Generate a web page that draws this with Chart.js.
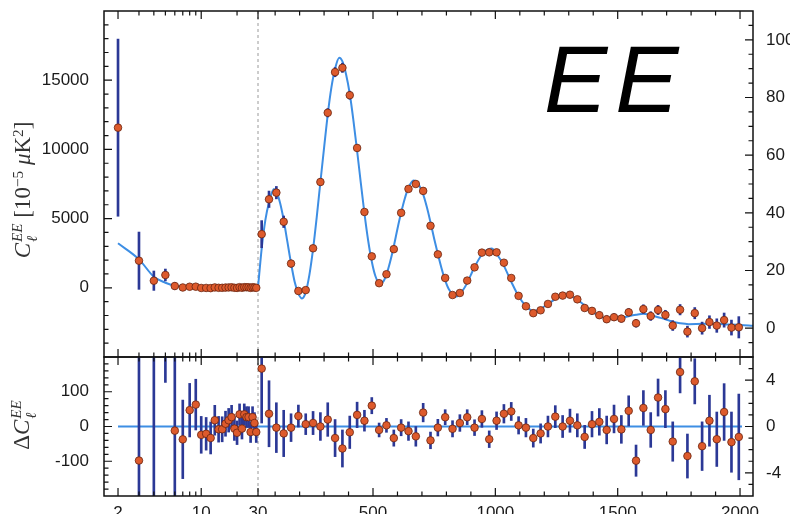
<!DOCTYPE html>
<html>
<head>
<meta charset="utf-8">
<script src="https://cdn.jsdelivr.net/npm/chart.js@4.4.1/dist/chart.umd.min.js"></script>
<style>
  html, body { margin: 0; padding: 0; background: #fff; }
  #wrap { position: relative; width: 790px; height: 514px; overflow: hidden; }
  canvas { position: absolute; left: 0; }
  #topCanvas { top: 0; }
  #botCanvas { top: 352px; }
  .ylab {
    position: absolute; transform: translate(-50%, -50%) rotate(-90deg);
    white-space: nowrap; font-family: "Liberation Serif", "DejaVu Serif", serif;
    font-size: 23px; color: #333;
  }
  .ylab sup { font-size: 0.66em; vertical-align: 0.5em; line-height: 0; }
  .ss { display: inline-block; font-size: 0.66em; line-height: 0.95; vertical-align: -0.45em; margin-left: 1px; }
  .ss i { display: block; }
  #ee {
    position: absolute; left: 544px; top: 32px; font-family: "Liberation Sans", Arial, sans-serif;
    font-style: italic; font-size: 95px; line-height: 1; letter-spacing: 8px; color: #000;
  }
</style>
</head>
<body>
<div id="wrap">
  <canvas id="topCanvas" width="790" height="362"></canvas>
  <canvas id="botCanvas" width="790" height="162"></canvas>
  <div class="ylab" style="left:25px; top:190px;"><i>C</i><span class="ss"><i>EE</i><i>ℓ</i></span> [10<sup>−5</sup> <i>μ</i>K<sup>2</sup>]</div>
  <div class="ylab" style="left:24px; top:425px;">Δ<i>C</i><span class="ss"><i>EE</i><i>ℓ</i></span></div>
  <div id="ee">EE</div>
</div>
<script>
// low multipoles, C_l in 10^-5 muK^2 (left axes)
const lowL = [2, 3, 4, 5, 6, 7, 8, 9, 10, 11, 12, 13, 14, 15, 16, 17, 18, 19, 20, 21, 22, 23, 24, 25, 26, 27, 28, 29];
const lowC = [11570, 1958, 513, 925, 128, 23, 77, 81, -12, -10, -24, 27, 0, 0, 16, 26, 35, 3, -9, 44, 4, 45, 37, 38, -5, 39, 22, -3];
const lowErr = [6400, 2070, 700, 430, 250, 113, 77, 73, 53, 47, 46, 43, 37, 36, 36, 34, 34, 34, 34, 30, 30, 30, 30, 30, 30, 30, 30, 30];
const lowResid = [8355, -98, -287, 557, -12, -37, 47, 63, -24, -21, -33, 18, -8, -8, 8, 18, 27, -6, -18, 35, -6, 35, 27, 27, -16, 27, 10, -16];
const lowTheoryL = [2, 3, 4, 5, 6, 7, 8, 9, 10, 12, 15, 20, 25, 30];
const lowTheoryC = [3215, 2056, 800, 368, 140, 60, 30, 18, 12, 9, 8, 9, 11, 14];

// binned high multipoles (right axes)
const highL = [45, 75, 105, 135, 165, 195, 225, 255, 285, 315, 345, 375, 405, 435, 465, 495, 525, 555, 585, 615,
  645, 675, 705, 735, 765, 795, 825, 855, 885, 915, 945, 975, 1005, 1035, 1065, 1095, 1125, 1155, 1185, 1215,
  1245, 1275, 1305, 1335, 1365, 1395, 1425, 1455, 1485, 1515, 1545, 1575, 1605, 1635, 1665, 1695, 1725, 1755, 1785, 1815,
  1845, 1875, 1905, 1935, 1965, 1995];
const highD = [32.6, 44.7, 47.0, 36.9, 22.4, 12.9, 13.2, 27.7, 50.7, 74.7,
  88.8, 90.3, 80.8, 62.5, 40.3, 24.9, 15.6, 18.7, 27.4, 40.0,
  48.3, 50.0, 47.6, 35.5, 25.6, 17.4, 11.5, 12.2, 16.5, 21.1,
  26.2, 26.3, 26.3, 22.7, 17.4, 11.2, 7.6, 5.2, 6.2, 8.4,
  10.9, 11.3, 11.6, 10.0, 7.0, 6.0, 4.5, 3.1, 3.8, 3.3,
  5.5, 1.7, 6.6, 4.2, 6.3, 4.6, 0.9, 6.4, -1.2, 5.2,
  0.0, 2.1, 0.9, 2.8, 0.2, 0.3];
const highErr = [4.7, 2.85, 2.15, 2.0, 1.2, 0.95, 0.9, 1.0, 1.2, 1.45,
  1.6, 1.6, 1.4, 1.1, 0.9, 0.7, 0.6, 0.6, 0.7, 0.7,
  0.8, 0.85, 0.8, 0.72, 0.72, 0.65, 0.7, 0.72, 0.65, 0.68,
  0.72, 0.72, 0.76, 0.8, 0.78, 0.75, 0.8, 0.78, 0.83, 0.9,
  0.95, 0.95, 1.0, 1.0, 1.0, 1.1, 1.15, 1.2, 1.2, 1.2,
  1.3, 1.35, 1.5, 1.5, 1.6, 1.6, 1.7, 1.8, 1.9, 1.95,
  2.1, 2.2, 2.35, 2.45, 2.6, 3.7];
const highResid = [5.0, 1.1, -0.1, -0.6, -0.1, 0.9, 0.2, 0.3, 0.0, 0.6,
  -1.0, -1.9, -0.5, 1.0, 0.5, 1.8, -0.3, 0.1, -1.0, -0.1,
  -0.4, -0.85, 1.2, -1.2, -0.1, 0.8, -0.2, 0.3, 0.8, -0.1,
  0.65, -1.1, 0.5, 1.1, 1.3, 0.1, -0.1, -1.0, -0.6, 0.0,
  0.85, 0.0, 0.5, 0.1, -0.9, 0.2, 0.4, -0.3, 0.65, -0.25,
  1.35, -2.95, 1.6, -0.3, 2.5, 1.5, -1.3, 4.7, -2.55, 3.9,
  -1.7, 0.5, -1.1, 1.25, -1.35, -0.9];
const highTheoryL = [30, 45, 60, 75, 95, 105, 120, 135, 150, 165, 180, 195, 210, 225, 240, 255, 270, 285, 300, 315,
  330, 345, 362, 375, 390, 405, 420, 435, 450, 465, 480, 495, 510, 527, 540, 555, 570, 585, 600, 615,
  630, 645, 665, 675, 690, 705, 720, 735, 750, 765, 780, 795, 810, 840, 870, 885, 900, 915, 945, 960,
  985, 1005, 1035, 1065, 1095, 1125, 1155, 1185, 1215, 1245, 1275, 1290, 1305, 1335, 1365, 1395, 1425, 1455, 1475, 1515,
  1545, 1575, 1605, 1635, 1665, 1695, 1725, 1755, 1790, 1850, 1900, 1950, 2000, 2053];
const highTheoryD = [14.1, 27.6, 37.5, 43.6, 48.3, 47.4, 43.5, 37.5, 30, 22.5, 16, 12.0, 10.3, 12.5, 18.5, 27.4, 38.5, 50.7, 62.5, 74.1,
  83.5, 90.0, 93.8, 92.5, 88, 81.3, 72, 61.5, 50.5, 39.8, 30.5, 23.1, 18, 15.6, 16, 18.6, 23, 28.4, 34.5, 40.1,
  45, 48.7, 51.2, 50.9, 49.3, 46.4, 42, 36.7, 31, 25.7, 20.8, 16.6, 13.5, 11.0, 13.5, 15.7, 18.5, 21.2, 25.55, 26.8,
  27.6, 25.8, 21.6, 16.1, 11.1, 7.7, 6.0, 6.8, 8.4, 10.05, 11.3, 11.5, 11.2, 9.9, 7.9, 5.8, 4.1, 3.4, 3.2, 3.55,
  4.15, 4.65, 5.0, 4.5, 3.8, 3.1, 2.2, 1.7, 1.4, 1.5, 1.5, 1.3, 1.1, 0.8];
const zeroL = [2, 2008];
const zeroV = [0, 0];

// axis ticks
const xMajorTicks = [2, 10, 30, 500, 1000, 1500, 2000];
const xMinorTicks = [3, 4, 5, 6, 7, 8, 9, 20, 100, 200, 300, 400, 600, 700, 800, 900,
  1100, 1200, 1300, 1400, 1600, 1700, 1800, 1900];
const topLeftTicks = [0, 5000, 10000, 15000];
const topRightTicks = [0, 20, 40, 60, 80, 100];
const botLeftTicks = [-100, 0, 100];
const botRightTicks = [-4, 0, 4];

// x axis: log up to l=30, linear above
const SPLIT = 30, SPLIT_FRAC = 0.2373;
class HybridScale extends Chart.LinearScale {
  static id = 'hybrid';
  static defaults = {};
  getPixelForValue(v) {
    let f;
    if (v <= SPLIT) {
      const a = Math.log10(this.min), b = Math.log10(SPLIT);
      f = SPLIT_FRAC * (Math.log10(Math.max(v, 1e-6)) - a) / (b - a);
    } else {
      f = SPLIT_FRAC + (1 - SPLIT_FRAC) * (v - SPLIT) / (this.max - SPLIT);
    }
    return this.getPixelForDecimal(f);
  }
  getValueForPixel(p) {
    const f = this.getDecimalForPixel(p);
    if (f <= SPLIT_FRAC) {
      const a = Math.log10(this.min), b = Math.log10(SPLIT);
      return Math.pow(10, a + f / SPLIT_FRAC * (b - a));
    }
    return SPLIT + (f - SPLIT_FRAC) / (1 - SPLIT_FRAC) * (this.max - SPLIT);
  }
}
Chart.register(HybridScale);

function minor(from, to, step, major) {
  const out = [];
  for (let v = from; v <= to + 1e-9; v += step) {
    if (!major.includes(v)) out.push(v);
  }
  return out;
}

const pairs = (xs, ys) => xs.map((x, i) => ({x: x, y: ys[i]}));
const errs = (xs, ys, es) => xs.map((x, i) => ({x: x, y: [ys[i] - es[i], ys[i] + es[i]]}));

const tickFont = {family: '"Liberation Sans", Arial, sans-serif', size: 17};
const tickColor = '#1a1a1a';

const lineStyle = {type: 'line', borderColor: '#3d8ee4', borderWidth: 2, pointRadius: 0,
  cubicInterpolationMode: 'monotone', fill: false, order: 3};
const barStyle = {type: 'bar', backgroundColor: '#2b3896', barThickness: 2, grouped: false, order: 2};
const ptStyle = {type: 'scatter', backgroundColor: '#dd5a2c', borderColor: '#6a2410', borderWidth: 0.8,
  pointRadius: 3.8, order: 1};

function xAxis(show) {
  return {
    type: 'hybrid', min: 1.525, max: 2053, display: show,
    grid: {display: false}, border: {display: false},
    afterBuildTicks: s => { s.ticks = xMajorTicks.map(v => ({value: v})); },
    afterFit: s => {
      s.height = show ? 18 : 0;
      s.paddingLeft = 0; s.paddingRight = 0;
    },
    ticks: {autoSkip: false, maxRotation: 0, padding: -1, font: tickFont, color: tickColor,
      callback: v => String(v)}
  };
}

function yAxis(pos, min, max, labels, width, pad) {
  return {
    position: pos, min: min, max: max,
    grid: {display: false}, border: {display: false},
    afterBuildTicks: s => { s.ticks = labels.map(v => ({value: v})); },
    afterFit: s => {
      s.width = width;
      s.paddingTop = 0; s.paddingBottom = 0;
    },
    ticks: {padding: pad, font: tickFont, color: tickColor, callback: v => String(v)}
  };
}

function framePlugin(lMajor, lMinor, rMajor, rMinor) {
  return {
    id: 'frame',
    beforeDatasetsDraw(chart) {
      const {ctx, chartArea: a, scales} = chart;
      const px = scales.x.getPixelForValue(SPLIT);
      ctx.save();
      ctx.strokeStyle = '#9b9b9b';
      ctx.lineWidth = 1;
      ctx.setLineDash([3, 3]);
      ctx.beginPath();
      ctx.moveTo(px, a.top);
      ctx.lineTo(px, a.bottom);
      ctx.stroke();
      ctx.restore();
    },
    afterDatasetsDraw(chart) {
      const {ctx, chartArea: a, scales} = chart;
      ctx.save();
      ctx.strokeStyle = '#111';
      ctx.lineWidth = 1.2;
      ctx.beginPath();
      const xt = (vals, len) => vals.forEach(v => {
        const p = scales.x.getPixelForValue(v);
        ctx.moveTo(p, a.top); ctx.lineTo(p, a.top + len);
        ctx.moveTo(p, a.bottom); ctx.lineTo(p, a.bottom - len);
      });
      const yt = (sc, vals, len, left) => vals.forEach(v => {
        const p = sc.getPixelForValue(v);
        if (left) { ctx.moveTo(a.left, p); ctx.lineTo(a.left + len, p); }
        else { ctx.moveTo(a.right, p); ctx.lineTo(a.right - len, p); }
      });
      xt(xMajorTicks, 8);
      xt(xMinorTicks, 4.5);
      yt(scales.y, lMajor, 8, true);
      yt(scales.y, lMinor, 4.5, true);
      yt(scales.yR, rMajor, 8, false);
      yt(scales.yR, rMinor, 4.5, false);
      ctx.stroke();
      ctx.lineWidth = 1.5;
      ctx.strokeRect(a.left, a.top, a.right - a.left, a.bottom - a.top);
      ctx.restore();
    }
  };
}

const baseOpts = {
  responsive: false, animation: false, devicePixelRatio: 1, events: [],
  plugins: {legend: {display: false}, tooltip: {enabled: false}}
};

new Chart(document.getElementById('topCanvas'), {
  type: 'scatter',
  data: {
    datasets: [
      {...lineStyle, yAxisID: 'y', data: pairs(lowTheoryL, lowTheoryC)},
      {...lineStyle, yAxisID: 'yR', data: pairs(highTheoryL, highTheoryD)},
      {...barStyle, yAxisID: 'y', data: errs(lowL, lowC, lowErr)},
      {...barStyle, yAxisID: 'yR', data: errs(highL, highD, highErr)},
      {...ptStyle, yAxisID: 'y', data: pairs(lowL, lowC)},
      {...ptStyle, yAxisID: 'yR', data: pairs(highL, highD)}
    ]
  },
  options: {
    ...baseOpts,
    layout: {padding: {top: 11, bottom: 5, left: 0, right: 0}},
    scales: {
      x: xAxis(false),
      y: yAxis('left', -5000, 20000, topLeftTicks, 104, 7),
      yR: yAxis('right', -10, 110, topRightTicks, 37, 5)
    }
  },
  plugins: [framePlugin(topLeftTicks, minor(-4000, 19000, 1000, topLeftTicks),
    topRightTicks, minor(-5, 105, 5, topRightTicks))]
});

new Chart(document.getElementById('botCanvas'), {
  type: 'scatter',
  data: {
    datasets: [
      {...lineStyle, yAxisID: 'y', data: pairs(zeroL, zeroV)},
      {...barStyle, yAxisID: 'y', data: errs(lowL, lowResid, lowErr)},
      {...barStyle, yAxisID: 'yR', data: errs(highL, highResid, highErr)},
      {...ptStyle, yAxisID: 'y', data: pairs(lowL, lowResid)},
      {...ptStyle, yAxisID: 'yR', data: pairs(highL, highResid)}
    ]
  },
  options: {
    ...baseOpts,
    layout: {padding: {top: 5, bottom: 0, left: 0, right: 0}},
    scales: {
      x: xAxis(true),
      y: yAxis('left', -200, 200, botLeftTicks, 104, 7),
      yR: yAxis('right', -6, 6, botRightTicks, 37, 5)
    }
  },
  plugins: [framePlugin(botLeftTicks, minor(-180, 180, 20, botLeftTicks),
    botRightTicks, minor(-5, 5, 1, botRightTicks))]
});
</script>
</body>
</html>
